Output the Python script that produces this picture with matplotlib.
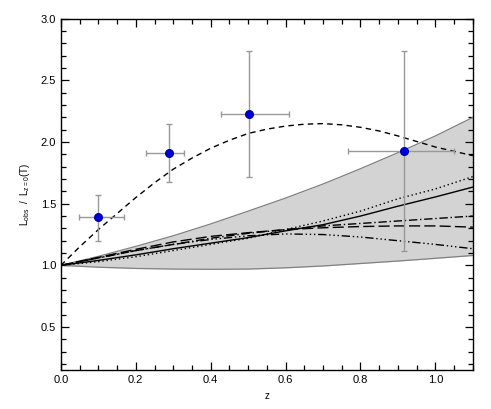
import numpy as np
import matplotlib
matplotlib.use('Agg')
import matplotlib.pyplot as plt
from matplotlib.ticker import MultipleLocator

plt.rcParams['font.family'] = ['Liberation Sans', 'DejaVu Sans']
plt.rcParams['mathtext.fontset'] = 'custom'
plt.rcParams['mathtext.rm'] = 'Liberation Sans'
plt.rcParams['mathtext.it'] = 'Liberation Sans'

# model grid
z = [0.0, 0.1, 0.2, 0.3, 0.4, 0.5, 0.6, 0.7, 0.8, 0.9, 1.0, 1.1]
band_hi = [1.0, 1.073, 1.154, 1.24, 1.336, 1.44, 1.546, 1.66, 1.784, 1.914, 2.05, 2.2]
band_lo = [1.0, 0.985, 0.975, 0.97, 0.968, 0.97, 0.98, 0.995, 1.015, 1.035, 1.057, 1.08]
m_solid = [1.0, 1.04, 1.085, 1.135, 1.18, 1.225, 1.28, 1.33, 1.40, 1.48, 1.555, 1.635]
m_dot = [1.0, 1.03, 1.07, 1.12, 1.17, 1.22, 1.29, 1.36, 1.44, 1.54, 1.62, 1.72]
m_dashdot = [1.0, 1.06, 1.12, 1.17, 1.22, 1.26, 1.29, 1.32, 1.34, 1.36, 1.38, 1.40]
m_longdash = [1.0, 1.065, 1.13, 1.19, 1.235, 1.265, 1.29, 1.305, 1.315, 1.32, 1.32, 1.31]
m_dash3dot = [1.0, 1.06, 1.12, 1.17, 1.21, 1.24, 1.255, 1.25, 1.23, 1.20, 1.17, 1.135]

# dashed curve (finer grid)
z_fine = [0.0, 0.05, 0.1, 0.15, 0.2, 0.25, 0.3, 0.35, 0.4, 0.45, 0.5, 0.55,
          0.6, 0.65, 0.7, 0.75, 0.8, 0.85, 0.9, 0.95, 1.0, 1.05, 1.1]
m_dashed = [1.0, 1.15, 1.29, 1.42, 1.55, 1.67, 1.78, 1.87, 1.95, 2.015, 2.07, 2.105,
            2.13, 2.145, 2.15, 2.14, 2.12, 2.09, 2.05, 2.005, 1.96, 1.925, 1.89]

# observed points
obs_z = [0.10, 0.29, 0.503, 0.915]
obs_zlo = [0.048, 0.227, 0.427, 0.768]
obs_zhi = [0.168, 0.329, 0.609, 1.049]
obs_L = [1.39, 1.91, 2.23, 1.93]
obs_Llo = [1.20, 1.68, 1.72, 1.12]
obs_Lhi = [1.57, 2.145, 2.74, 2.74]

fig = plt.figure(figsize=(4.91, 4.09), dpi=100)
ax = fig.add_axes([0.124, 0.095, 0.839, 0.859])

ax.fill_between(z, band_lo, band_hi, color='#d3d3d3', lw=0)
ax.plot(z, band_hi, color='#808080', lw=0.9)
ax.plot(z, band_lo, color='#808080', lw=0.9)

ax.plot(z, m_solid, color='k', lw=1.0, ls='-')
ax.plot(z, m_dot, color='k', lw=1.0, ls=(0, (1, 2)))
ax.plot(z, m_dashdot, color='k', lw=1.0, ls=(0, (6, 2, 1, 2)))
ax.plot(z, m_longdash, color='k', lw=1.0, ls=(0, (8, 3)))
ax.plot(z, m_dash3dot, color='k', lw=1.0, ls=(0, (6, 2, 1, 2, 1, 2, 1, 2)))
ax.plot(z_fine, m_dashed, color='k', lw=1.0, ls=(0, (4, 3)))

zo = np.array(obs_z)
Lo = np.array(obs_L)
xerr = [zo - np.array(obs_zlo), np.array(obs_zhi) - zo]
yerr = [Lo - np.array(obs_Llo), np.array(obs_Lhi) - Lo]
ax.errorbar(zo, Lo, xerr=xerr, yerr=yerr, fmt='none', ecolor='#999999',
            elinewidth=1.0, capsize=2.5, capthick=1.0)
ax.plot(zo, Lo, 'o', color='#0000dd', ms=5.5, mec='#0000aa', zorder=5)

ax.set_xlim(0, 1.1)
ax.set_ylim(0.15, 3.0)
ax.xaxis.set_major_locator(MultipleLocator(0.2))
ax.xaxis.set_minor_locator(MultipleLocator(0.05))
ax.yaxis.set_major_locator(MultipleLocator(0.5))
ax.yaxis.set_minor_locator(MultipleLocator(0.1))
ax.tick_params(which='both', direction='in', top=True, right=True, labelsize=8)
ax.tick_params(which='major', length=6, width=0.9)
ax.tick_params(which='minor', length=3.5, width=0.9)
for s in ax.spines.values():
    s.set_linewidth(1.0)

ax.set_xlabel('z', fontsize=7)
ax.set_ylabel(r'L$_{\rm obs}$  /  L$_{\rm z=0}$(T)', fontsize=7, labelpad=6)

fig.savefig('out.png', dpi=100)
